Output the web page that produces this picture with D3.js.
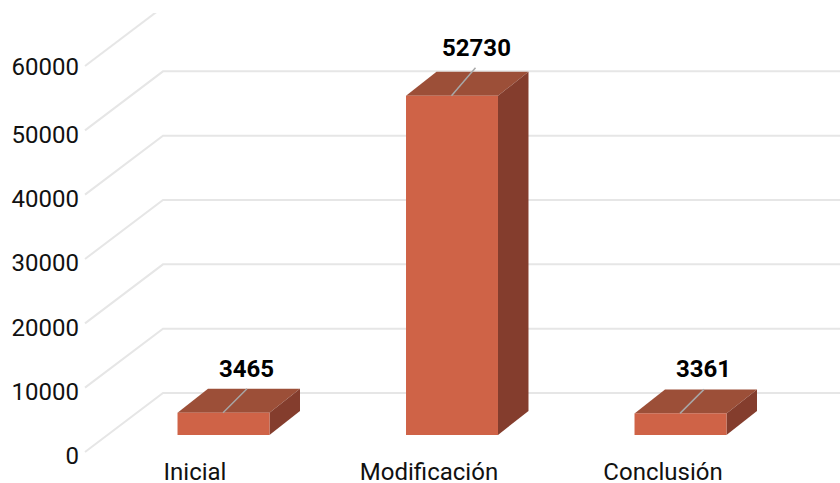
<!DOCTYPE html>
<html><head><meta charset="utf-8">
<script src="https://cdn.jsdelivr.net/npm/d3@7/dist/d3.min.js"></script>
<style>html,body{margin:0;padding:0;background:#fff}svg{display:block}text{font-family:Roboto,sans-serif}</style>
</head><body><svg id="c" width="840" height="483"></svg>
<script>
const categories = ["Inicial", "Modificación", "Conclusión"];
const values = [3465, 52730, 3361];
const tickValues = [0, 10000, 20000, 30000, 40000, 50000, 60000];

const svg = d3.select("#c");
const y = d3.scaleLinear().domain([0, 60000]).range([452, 66]);
const x = d3.scaleBand().domain(categories).range([109.25, 794.75]);
const xLabel = d3.scaleBand().domain(categories).range([78, 780]);
const barW = x.bandwidth() * 0.4025;
const wallDx = 78, wallDy = -59;          // full depth of the chart floor
const barLift = 17, barDx = 30.5, barDy = -24; // bar placement within the depth

const clip = svg.append("defs").append("clipPath").attr("id", "plot");
clip.append("rect").attr("x", 0).attr("y", 13).attr("width", 840).attr("height", 470);

const grid = svg.append("g").attr("clip-path", "url(#plot)")
  .attr("stroke", "#e6e6e6").attr("stroke-width", 2).attr("fill", "none");
grid.selectAll("path").data(tickValues).join("path")
  .attr("d", v => `M85,${y(v)}L${85 + wallDx},${y(v) + wallDy}` + (v < 60000 ? `H840` : ``));

const yAxis = d3.axisLeft(y).tickValues(tickValues).tickSize(0).tickPadding(0).tickFormat(d3.format("d"));
const ga = svg.append("g").attr("transform", "translate(79,0)").call(yAxis);
ga.select(".domain").remove();
ga.selectAll("text").attr("font-size", 24).attr("fill", "#111").attr("dy", "0.32em")
  .attr("transform", d => `translate(0,${d === 60000 ? 0.5 : 4})`);

const xAxis = d3.axisBottom(xLabel).tickSize(0).tickPadding(0);
const gx = svg.append("g").attr("transform", "translate(0,463)").call(xAxis);
gx.select(".domain").remove();
gx.selectAll("text").attr("font-size", 24).attr("fill", "#111");

const base = y(0) - barLift;
const bars = svg.selectAll("g.bar").data(categories.map((c, i) => ({c, v: values[i]}))).join("g").attr("class", "bar");
const L = d => x(d.c) + x.bandwidth() / 2 - barW / 2;
const R = d => L(d) + barW;
const T = d => y(d.v) - barLift;

bars.append("path").attr("fill", "#9c4f38")
  .attr("d", d => `M${L(d)},${T(d)}L${L(d)+barDx},${T(d)+barDy}H${R(d)+barDx}L${R(d)},${T(d)}Z`);
bars.append("path").attr("fill", "#843d2d")
  .attr("d", d => `M${R(d)},${T(d)}L${R(d)+barDx},${T(d)+barDy}V${base+barDy}L${R(d)},${base}Z`);
bars.append("rect").attr("fill", "#cf6347")
  .attr("x", L).attr("y", T).attr("width", barW).attr("height", d => base - T(d));
bars.append("line").attr("stroke", "#a8a8a8").attr("stroke-width", 1.5)
  .attr("x1", d => x(d.c) + x.bandwidth()/2 - 0.5).attr("y1", T)
  .attr("x2", d => x(d.c) + x.bandwidth()/2 + 23.5).attr("y2", d => T(d) - 28 + (d.v < 10000 ? 4 : 0));
bars.append("text").attr("text-anchor", "middle").attr("font-size", 24).attr("font-weight", 700).attr("fill", "#000")
  .attr("x", d => x(d.c) + x.bandwidth()/2 + (d.v < 10000 ? 23 : 24.5))
  .attr("y", d => T(d) - (d.v < 10000 ? 36 : 40))
  .text(d => d.v);
</script></body></html>
